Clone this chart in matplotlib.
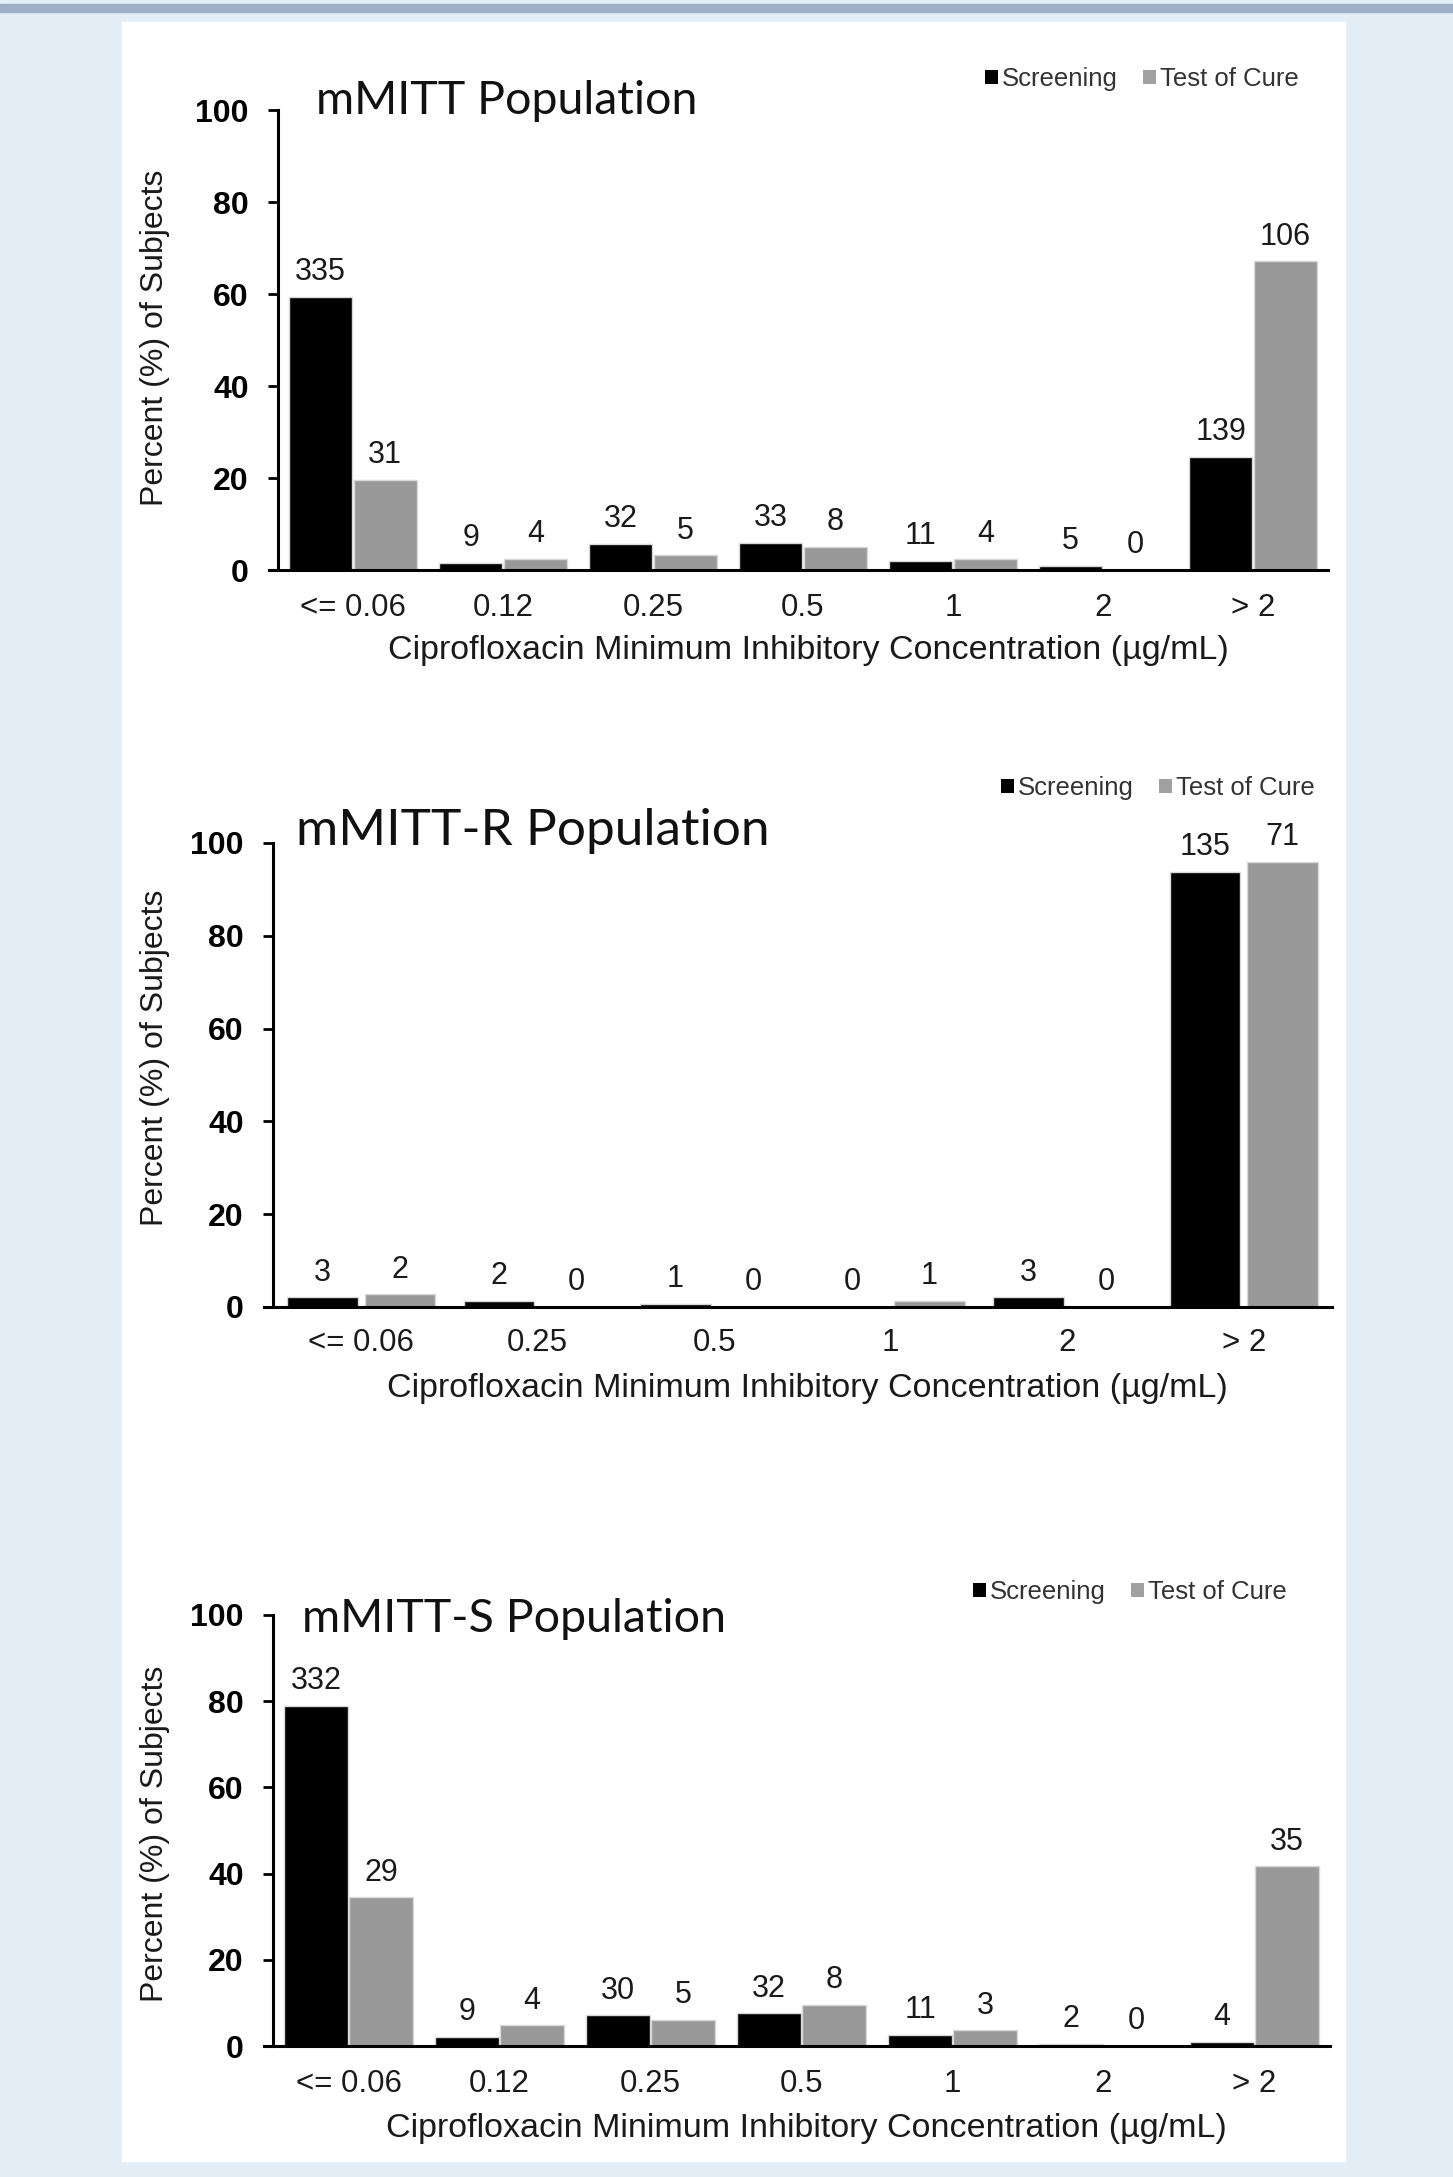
import matplotlib.pyplot as plt
import numpy as np
from matplotlib.patches import Rectangle, Patch

W, H = 1453, 2177

# mMITT population
cats1 = ["<= 0.06", "0.12", "0.25", "0.5", "1", "2", "> 2"]
scr1_pct = [59.4, 1.6, 5.7, 5.9, 2.0, 0.9, 24.6]
toc1_pct = [19.6, 2.5, 3.2, 5.1, 2.5, 0.0, 67.1]
scr1_n = [335, 9, 32, 33, 11, 5, 139]
toc1_n = [31, 4, 5, 8, 4, 0, 106]

# mMITT-R population
cats2 = ["<= 0.06", "0.25", "0.5", "1", "2", "> 2"]
scr2_pct = [2.1, 1.4, 0.7, 0.0, 2.1, 93.8]
toc2_pct = [2.7, 0.0, 0.0, 1.4, 0.0, 95.9]
scr2_n = [3, 2, 1, 0, 3, 135]
toc2_n = [2, 0, 0, 1, 0, 71]

# mMITT-S population
cats3 = ["<= 0.06", "0.12", "0.25", "0.5", "1", "2", "> 2"]
scr3_pct = [79.0, 2.1, 7.1, 7.6, 2.6, 0.5, 1.0]
toc3_pct = [34.5, 4.8, 6.0, 9.5, 3.6, 0.0, 41.7]
scr3_n = [332, 9, 30, 32, 11, 2, 4]
toc3_n = [29, 4, 5, 8, 3, 0, 35]

titles = ["mMITT Population", "mMITT-R Population", "mMITT-S Population"]
xlab = "Ciprofloxacin Minimum Inhibitory Concentration (µg/mL)"

plt.rcParams['font.family'] = ['Liberation Sans', 'DejaVu Sans']

fig = plt.figure(figsize=(W / 100, H / 100), dpi=100)
fig.patch.set_facecolor('#e4eef7')

def fx(px):
    return px / W

def fy(py):
    return 1 - py / H

# page background bits
fig.patches.append(Rectangle((0, fy(12)), 1, 8 / H, transform=fig.transFigure,
                             color='#9db0c8', zorder=-10))
fig.patches.append(Rectangle((fx(122), fy(2161)), fx(1345) - fx(122), (2161 - 22) / H,
                             transform=fig.transFigure, color='white', zorder=-10))

# pixel boxes: left, right, top(100), bottom(0)
boxes = [(278, 1328, 110, 570), (273, 1332, 843, 1307), (273, 1330, 1615, 2046)]
title_pos = [(316, 101), (296, 831), (302, 1619)]
title_size = [33.5, 37, 33.5]
leg_pos = [(972, 79), (988, 788), (960, 1592)]
xtick_y = [608, 1343, 2084]
xlab_y = [650, 1389, 2128]
ylab_y = [338, 1058, 1834]

data = [(cats1, scr1_pct, toc1_pct, scr1_n, toc1_n, 0.42, 0.215),
        (cats2, scr2_pct, toc2_pct, scr2_n, toc2_n, 0.40, 0.22),
        (cats3, scr3_pct, toc3_pct, scr3_n, toc3_n, 0.42, 0.215)]

for i, (cats, sp, tp, sn, tn, bw, off) in enumerate(data):
    l, r, t, b = boxes[i]
    ax = fig.add_axes([fx(l), fy(b), fx(r) - fx(l), (b - t) / H])
    ax.set_facecolor('none')
    x = np.arange(len(cats))
    b1 = ax.bar(x - off, sp, bw, color='black', edgecolor='#d8d8d8', linewidth=1)
    b2 = ax.bar(x + off, tp, bw, color='#999999', edgecolor='#d8d8d8', linewidth=1)
    for bars, ns in ((b1, sn), (b2, tn)):
        for bar, n in zip(bars, ns):
            ax.annotate(str(n), (bar.get_x() + bar.get_width() / 2, bar.get_height()),
                        xytext=(0, 7), textcoords='offset points', ha='center', va='bottom',
                        fontsize=22, color='#1a1a1a')
    ax.set_xlim(-0.5, len(cats) - 0.5)
    ax.set_ylim(0, 100)
    ax.set_yticks([0, 20, 40, 60, 80, 100])
    ax.tick_params(axis='y', direction='out', length=7, width=2, labelsize=23, pad=14)
    for lab in ax.get_yticklabels():
        lab.set_fontweight('bold')
    ax.set_xticks(x)
    ax.set_xticklabels(cats)
    ax.tick_params(axis='x', length=0, labelsize=22.5, labelcolor='#1a1a1a',
                   pad=(xtick_y[i] - b) * 0.72 - 11)
    for s in ('top', 'right'):
        ax.spines[s].set_visible(False)
    ax.spines['left'].set_linewidth(2.2)
    ax.spines['bottom'].set_linewidth(2.2)
    ax.spines['bottom'].set_bounds(-0.5 - 0.06 * len(cats) / 7, len(cats) - 0.5)
    fig.text(fx(155), fy(ylab_y[i]), "Percent (%) of Subjects", rotation=90,
             ha='center', va='center', fontsize=23, color='#1a1a1a')
    fig.text(fx((l + r) / 2 + 5), fy(xlab_y[i]), xlab, ha='center', va='center',
             fontsize=24.5, color='#1a1a1a')
    tx, ty = title_pos[i]
    fig.text(fx(tx), fy(ty), titles[i], ha='left', va='center', fontsize=title_size[i],
             family=['Lato', 'DejaVu Sans'], color='#111111')
    lx, ly = leg_pos[i]
    handles = [Patch(facecolor='black', edgecolor='none', label='Screening'),
               Patch(facecolor='#a0a0a0', edgecolor='none', label='Test of Cure')]
    fig.legend(handles=handles, loc='center left', bbox_to_anchor=(fx(lx), fy(ly)),
               ncol=2, frameon=False, fontsize=18.5, handlelength=0.5, handleheight=0.5,
               handletextpad=0.15, columnspacing=1.0, borderpad=0, labelcolor='#333333')

fig.savefig('out.png', dpi=100, facecolor=fig.get_facecolor())
